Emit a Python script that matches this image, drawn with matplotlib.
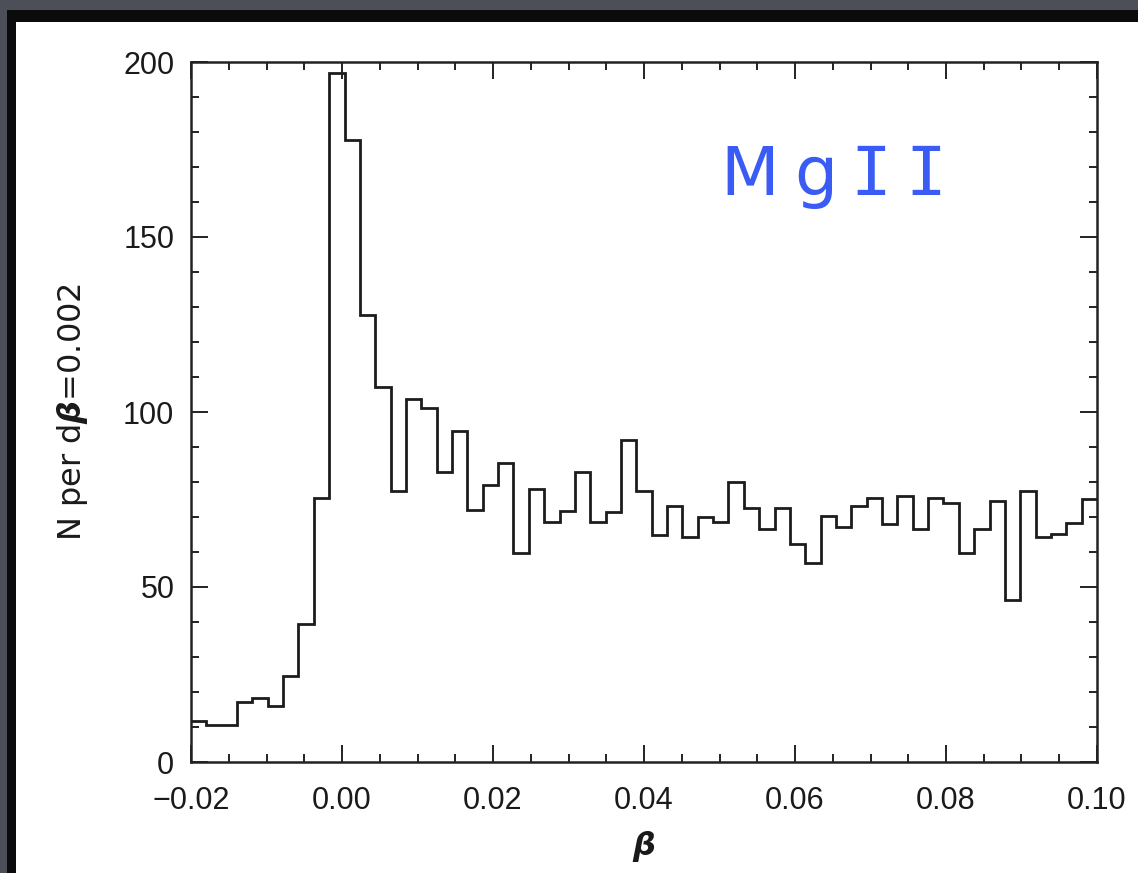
#imported libraries
import numpy as np
import matplotlib
matplotlib.use('Agg')
import matplotlib.pyplot as plt
from matplotlib.patches import Rectangle
from matplotlib.ticker import MultipleLocator

#histogram of beta (N per d-beta)
beta_min = -0.02
beta_max = 0.10
counts = [11.7, 10.7, 10.7, 17.1, 18.4, 16.0, 24.6, 39.4, 75.5, 197.0,
          177.7, 127.6, 107.1, 77.4, 103.7, 101.1, 82.8, 94.7, 72.1, 79.2,
          85.4, 59.6, 78.0, 68.5, 71.8, 82.9, 68.5, 71.5, 92.1, 77.3,
          64.9, 73.2, 64.4, 69.9, 68.6, 79.9, 72.7, 66.5, 72.5, 62.3,
          57.0, 70.4, 67.2, 73.2, 75.3, 68.0, 76.1, 66.7, 75.3, 74.0,
          59.7, 66.5, 74.6, 46.2, 77.3, 64.3, 65.1, 68.2, 75.1]
edges = np.linspace(beta_min, beta_max, len(counts) + 1)

x_ticks = [-0.02, 0.00, 0.02, 0.04, 0.06, 0.08, 0.10]
y_ticks = [0, 50, 100, 150, 200]
label_text = 'MgII'

W, H = 1138, 873
fig = plt.figure(figsize=(W / 100, H / 100), dpi=100)
fig.patch.set_facecolor('#4c4f57')

#white slide panel with a dark shadow on its top/left edge
fig.patches.append(Rectangle((7 / W, 0), 1, 1 - 10 / H, transform=fig.transFigure,
                             facecolor='#0b0b0c', edgecolor='none', zorder=-3))
fig.patches.append(Rectangle((16 / W, 0), 1, 1 - 22 / H, transform=fig.transFigure,
                             facecolor='white', edgecolor='none', zorder=-2))

ax = fig.add_axes([191 / W, 1 - 762 / H, (1097 - 191) / W, (762 - 62) / H])
ax.set_facecolor('none')

ax.stairs(counts, edges, baseline=None, color='#1c1c1c', linewidth=2.0)

ax.set_xlim(beta_min, beta_max)
ax.set_ylim(0, 200)
ax.set_xticks(x_ticks)
ax.set_yticks(y_ticks)
ax.xaxis.set_minor_locator(MultipleLocator(0.005))
ax.yaxis.set_minor_locator(MultipleLocator(10))
ax.set_xticklabels(['\u22120.02', '0.00', '0.02', '0.04', '0.06', '0.08', '0.10'])

ax.tick_params(which='both', direction='in', top=True, right=True, width=1.4, color='#222222')
ax.tick_params(which='major', length=12)
ax.tick_params(which='minor', length=6)
ax.tick_params(axis='x', which='major', pad=17, labelsize=22)
ax.tick_params(axis='y', which='major', pad=12, labelsize=22)
for lab in ax.get_xticklabels() + ax.get_yticklabels():
    lab.set_family('Liberation Sans')
    lab.set_color('#1a1a1a')

for sp in ax.spines.values():
    sp.set_linewidth(1.8)
    sp.set_color('#222222')

ax.set_xlabel(r'$\boldsymbol{\beta}$', fontsize=23, color='#1a1a1a', labelpad=10)
ax.set_ylabel(r'N per d$\boldsymbol{\beta}$=0.002', fontsize=23, family='DejaVu Sans',
              color='#1a1a1a')
ax.yaxis.set_label_coords(-(191 - 90) / (1097 - 191), 0.5)

#the blue "MgII" label, one glyph at a time to match the wide handwritten look
blue = '#3b5cf4'
char_x = [750, 816, 871, 926]
char_fonts = ['DejaVu Sans', 'DejaVu Sans', 'DejaVu Sans Mono', 'DejaVu Sans Mono']
for ch, cx, fam in zip(label_text, char_x, char_fonts):
    fig.text(cx / W, 1 - 195 / H, ch, fontsize=49, color=blue, family=fam,
             ha='center', va='baseline')

#saving the figure
plt.savefig('out.png', dpi=100, facecolor=fig.get_facecolor())
